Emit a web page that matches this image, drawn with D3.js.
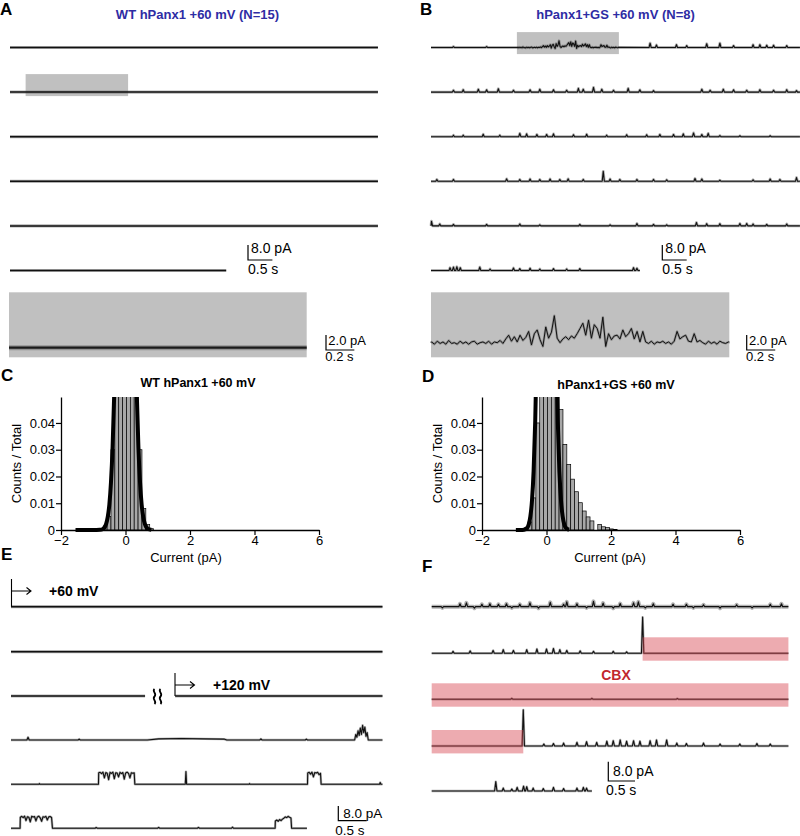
<!DOCTYPE html>
<html><head><meta charset="utf-8">
<script src="https://cdn.jsdelivr.net/npm/d3@7"></script>
<style>
body{margin:0;background:#fff;}
svg{display:block;font-family:"Liberation Sans",Arial,sans-serif;}
</style></head><body>
<svg id="fig" width="800" height="836"></svg>
<script>
// ================= DATA =================
const titleA = "WT hPanx1 +60 mV (N=15)";
const titleB = "hPanx1+GS +60 mV (N=8)";
const titleC = "WT hPanx1 +60 mV";
const titleD = "hPanx1+GS +60 mV";
const histXTicks = [-2, 0, 2, 4, 6];
const histYTicks = [0, 0.01, 0.02, 0.03, 0.04];
const histYTickLabels = ["0", "0.01", "0.02", "0.03", "0.04"];
const histXLabel = "Current (pA)";
const histYLabel = "Counts / Total";

// row durations (s)
const aRowDur = [7.54, 7.54, 7.54, 7.54, 7.54, 4.43];
const bRowDur = [7.56, 7.56, 7.56, 7.56, 7.56, 4.28];
// highlighted windows (s)
const aBox = [0.32, 2.42];
const bBox = [1.76, 3.85];

// panel B spikes per row: [time s, amplitude pA]
const bSpikes1 = [[0.46,0.5],[1.14,0.5],[4.49,2.3],[4.62,1.3],[5.03,1.5],[5.24,1.0],[5.65,2.0],[5.92,2.3],[6.2,1.0],[6.6,1.5],[6.74,1.5],[6.88,1.2],[7.02,1.2],[7.29,1.0]];
const bSpikes2 = [[0.46,1.0],[0.66,1.3],[0.97,1.5],[1.14,1.2],[1.38,1.8],[1.69,1.0],[2.03,1.2],[2.23,1.5],[2.51,1.2],[2.78,1.0],[3.02,2.0],[3.12,1.5],[3.33,2.5],[3.5,1.5],[3.74,1.0],[4.04,2.0],[4.28,1.2],[4.56,0.8],[5.55,1.5],[5.72,1.0],[5.99,1.5],[6.2,1.2],[6.47,1.0],[6.74,1.3],[7.02,1.0],[7.29,1.3],[7.49,0.8]];
const bSpikes3 = [[0.46,0.8],[0.66,0.8],[1.07,1.3],[1.41,0.8],[1.82,1.8],[1.96,1.5],[2.17,1.2],[2.37,1.2],[2.51,1.5],[2.92,1.0],[3.19,1.3],[3.6,0.8],[4.01,1.0],[4.42,1.0],[4.69,1.2],[4.97,1.2],[5.17,1.5],[5.38,2.0],[5.55,1.2],[5.68,1.8],[5.92,0.6],[6.33,0.5],[6.95,0.5]];
const bSpikes4 = [[0.12,1.0],[0.46,1.0],[1.55,1.3],[1.82,1.0],[2.03,1.2],[2.23,1.0],[2.44,1.2],[2.64,1.0],[2.81,1.3],[3.12,1.0],[3.53,5.3],[3.67,1.2],[3.87,1.0],[4.22,1.0],[4.56,1.0],[4.83,0.8],[5.41,1.5],[5.55,1.2],[5.92,0.6],[6.6,0.8],[6.95,1.2],[7.15,1.0],[7.49,2.0]];
const bSpikes5 = [[0.01,2.5],[0.18,1.0],[0.46,0.8],[1.14,0.8],[1.82,1.0],[2.23,0.6],[3.05,0.8],[3.67,0.6],[4.22,1.3],[4.56,0.8],[4.83,0.6],[5.44,1.8],[5.65,1.2],[5.92,1.2],[6.33,1.3],[6.47,1.3],[6.6,1.0],[6.88,0.8],[7.29,1.0]];
const bSpikes6 = [[0.39,1.5],[0.46,1.8],[0.53,2.0],[0.6,1.5],[1.0,1.8],[1.21,0.8],[1.69,1.3],[1.82,1.0],[2.03,1.2],[2.23,0.8],[2.51,1.0],[2.78,0.8],[3.05,1.0],[4.15,1.5],[4.22,1.2]];

// panel B highlighted window, sampled every 0.02 s (pA)
const bWindowDt = 0.02;
const bWindow = [0.1,-0.2,0.2,-0.1,0.1,-0.2,0.3,-0.1,0,-0.2,0.2,-0.1,0.1,-0.2,0.1,0.2,-0.2,0,0.1,-0.1,0.2,-0.2,0.1,0,
  0.3,-0.1,0.5,1.0,0.2,0.8,0.1,1.0,0.3,0.7,1.5,-0.3,1.2,1.7,0.4,-0.5,2.1,0.6,1.4,3.6,0.6,0.0,0.5,0.8,0.4,0.9,0.6,1.2,1.9,2.6,1.0,3.0,0.6,2.4,1.9,0.6,3.4,-0.5,1.2,0.4,0.9,1.0,0.5,1.7,0.8,1.2,1.9,0.5,1.5,0.1,1.5,0.1,
  -0.1,0.2,-0.2,0.1,0,0.2,-0.1,0.1,-0.2,0.2,1.5,0.5,0.8,1.0,0.2,0.1,1.2,0.1,0.3,0,-0.2,0.2,-0.1,0.1,-0.2,0.2,0,-0.1,0.1];

// histogram bins (left edge pA, fraction), bin width 0.12 pA
const binWidth = 0.12;
const cBinEdges = [-0.93,-0.81,-0.69,-0.57,-0.45,-0.33,-0.21,-0.09,0.03,0.15,0.27,0.39,0.51,0.63,0.75];
const cBinCounts = [0.0002,0.0005,0.0015,0.005,0.03,0.07,0.1,0.11,0.1,0.08,0.06,0.03,0.008,0.002,0.0005];
const dBinEdges = [-0.81,-0.69,-0.57,-0.45,-0.33,-0.21,-0.09,0.03,0.15,0.27,0.39,0.51,0.63,0.75,0.87,0.99,1.11,1.23,1.35,1.47,1.59,1.71,1.83,1.95,2.07];
const dBinCounts = [0.0003,0.0008,0.003,0.012,0.04,0.07,0.09,0.09,0.08,0.065,0.045,0.032,0.0245,0.019,0.0143,0.0102,0.0071,0.0049,0.0034,0,0.0021,0.0012,0.0009,0.0004,0.0002];
// Gaussian fits (pA, fraction)
const cFitX = [-1.55,-1.0,-0.8,-0.7,-0.65,-0.6,-0.55,-0.5,-0.45,-0.4,-0.35,-0.3,-0.2,-0.1,0,0.1,0.2,0.3,0.35,0.4,0.45,0.5,0.55,0.6,0.65,0.7,0.8];
const cFitY = [0,0,0.0001,0.0004,0.001,0.0023,0.0049,0.0096,0.0179,0.0311,0.0507,0.0774,0.148,0.22,0.25,0.22,0.148,0.0774,0.0507,0.0311,0.0179,0.0096,0.0049,0.0023,0.001,0.0004,0.0001];
const dFitX = [-0.95,-0.8,-0.7,-0.6,-0.55,-0.5,-0.45,-0.4,-0.35,-0.3,-0.25,-0.2,-0.1,0,0.1,0.2,0.25,0.3,0.35,0.4,0.45,0.5,0.55,0.6,0.7];
const dFitY = [0,0,0.0001,0.0008,0.0021,0.0051,0.011,0.022,0.0406,0.069,0.108,0.156,0.255,0.3,0.255,0.156,0.108,0.069,0.0406,0.022,0.011,0.0051,0.0021,0.0008,0.0001];

// panel E
const eRowDur = [6.54, 6.54, 6.54, 6.54, 6.54, 5.21];
const eSplit = [2.36, 2.89];           // row 3 gap (s)
const eSpikes4 = [[0.3,1.5],[1.2,0.5],[4.4,0.6],[5.2,0.5]];
const eRaw4 = [[2.4,0],[2.6,0.6],[3.0,0.8],[3.4,0.6],[3.75,0.5],[3.8,0],
  [6.05,0],[6.07,3],[6.09,1.5],[6.11,5],[6.13,2.5],[6.15,6.5],[6.17,3],[6.19,8],[6.21,4],[6.23,7],[6.25,2],[6.27,4],[6.29,0]];
const eSpikes5 = [[3.08,6.9],[6.5,1.0],[0.5,0.4],[4.2,0.4]];
const eOpen5a = {t0:1.54, dt:0.025, vals:[6.3,6.5,5.8,6.6,3.5,6.4,6.0,2.5,6.5,5.9,6.6,3.0,6.3,6.1,4.0,6.5,5.8,6.4,2.8,6.2,6.6,5.9,3.5,6.3,6.0,6.2], t1:2.18};
const eOpen5b = {t0:5.22, dt:0.025, vals:[6.2,6.5,5.5,6.6,4.0,6.4,6.1,6.5,5.2,6.0], t1:5.46};
const eSpikes6 = [[1.5,0.4],[2.6,0.5],[3.3,0.5],[3.9,0.6]];
const eOpen6a = {t0:0.16, dt:0.025, vals:[6.0,6.5,5.8,6.6,4.2,6.3,6.0,3.5,6.5,6.1,6.4,4.0,6.2,6.6,5.7,3.8,6.3,6.0,6.5,4.5,6.2,6.4,5.9], t1:0.73};
const eOpen6b = {t0:4.65, dt:0.025, vals:[4.0,4.5,3.8,4.8,4.2,5.0,5.5,6.2,5.8,6.5,6.0,5.6], t1:4.94};

// panel F
const fRowDur = [6.68, 6.68, 6.68, 6.68, 3.0];
const fSpikes1 = [[0.2,-0.5],[0.53,1.2],[0.65,1.6],[0.8,-0.6],[0.94,1.0],[1.09,1.2],[1.25,1.0],[1.4,1.2],[1.5,-0.5],[1.65,1.0],[1.84,1.6],[2.0,-0.6],[2.22,1.8],[2.47,1.0],[2.53,2.0],[2.72,1.2],[2.9,-0.5],[3.03,2.2],[3.21,1.5],[3.4,-0.6],[3.53,1.3],[3.78,1.6],[3.87,2.0],[4.0,-0.5],[4.15,1.2],[4.52,1.0],[4.77,1.0],[4.9,-0.5],[5.09,0.8],[5.4,-0.6],[5.71,0.8],[6.0,-0.5],[6.34,1.0],[6.55,1.2]];
const fSpikes2 = [[0.4,0.8],[0.72,1.0],[1.15,1.2],[1.34,1.5],[1.53,1.2],[1.78,1.5],[1.97,1.8],[2.15,1.8],[2.28,2.0],[2.4,1.5],[2.53,1.2],[2.78,1.0],[3.03,0.8],[3.4,0.8],[3.65,0.6],[3.95,15]];
const fSpikes3 = [[1.5,0.4],[3.0,0.4],[4.6,0.3]];
const fSpikes4 = [[1.715,15],[2.1,0.8],[2.28,1.0],[2.47,1.2],[2.72,1.5],[2.9,1.8],[3.09,1.5],[3.28,2.0],[3.4,2.2],[3.53,2.5],[3.65,2.0],[3.78,2.2],[3.9,2.0],[4.09,2.2],[4.21,2.5],[4.4,2.5],[4.59,1.2],[4.77,1.0],[5.09,1.2],[5.4,0.8],[5.77,0.8],[6.09,1.0],[6.34,0.8]];
const fSpikes5 = [[1.2,3.9],[1.34,1.2],[1.5,0.8],[1.6,1.5],[1.72,2.0],[1.78,1.8],[1.9,1.2],[2.09,1.0],[2.28,1.5],[2.47,1.0],[2.72,1.2],[2.84,1.5],[2.9,1.2]];
// CBX application windows: [row index, start s, end s]
const cbxWindows = [[1, 3.95, 6.68], [2, 0, 6.68], [3, 0, 1.715]];

// scale bar values
const mainBarPA = 8.0, mainBarS = 0.5, insetBarPA = 2.0, insetBarS = 0.2;

// ================= LAYOUT =================
const svg = d3.select("#fig");
const BLUE = "#2e2ca4", RED = "#c1272d";
const rowsAB = [47.5, 92.1, 136.7, 181.3, 225.9, 270.5];
const rowsE = [606.7, 651.7, 696, 740, 784.3, 828.3];
const rowsF = [606.7, 653.3, 699.3, 746, 791];

function buildTrace(spec) {
  const w = spec.w ?? 0.03;
  let pts = [];
  (spec.spikes || []).forEach(([t, a]) => pts.push([t - w, 0], [t, a], [t + w, 0]));
  (spec.raw || []).forEach(p => pts.push(p));
  (spec.samples || []).forEach(s => {
    pts.push([s.t0, 0]);
    s.vals.forEach((v, i) => pts.push([s.t0 + 0.004 + i * s.dt, v]));
    if (s.t1 !== undefined) pts.push([s.t1, 0]);
  });
  pts.sort((a, b) => a[0] - b[0]);
  const s0 = spec.start ?? 0, s1 = spec.end;
  pts = pts.filter(p => p[0] > s0 && p[0] < s1);
  return [[s0, 0], ...pts, [s1, 0]];
}

function drawTrace(g, spec, xs, ys, st) {
  const pts = buildTrace(spec);
  const line = d3.line().x(d => xs(d[0])).y(d => ys(d[1]));
  if (st.halo) g.append("path").attr("d", line(pts)).attr("fill", "none")
    .attr("stroke", "#666").attr("stroke-opacity", 0.5).attr("stroke-width", st.halo)
    .attr("stroke-linejoin", "round");
  g.append("path").attr("d", line(pts)).attr("fill", "none")
    .attr("stroke", st.color || "#000").attr("stroke-width", st.w || 1).attr("stroke-linejoin", "round");
}

function text(x, y, s, o = {}) {
  return svg.append("text").attr("x", x).attr("y", y).text(s)
    .attr("font-size", o.size || 13).attr("font-weight", o.bold ? "bold" : "normal")
    .attr("fill", o.color || "#000").attr("text-anchor", o.anchor || "start")
    .attr("dominant-baseline", o.db || "auto");
}

function scaleBar(x, y, xs, ys, tVal, aVal, labA, labT, o) {
  const len = xs(tVal) - xs(0), h = ys(0) - ys(aVal);
  svg.append("path").attr("d", `M${x},${y - h}V${y}H${x + len}`).attr("fill", "none")
    .attr("stroke", "#000").attr("stroke-width", 1.2);
  text(x + o.ax, o.ay, labA, {size: o.size, db: "central"});
  text(x + o.tx, o.ty, labT, {size: o.size, db: "central"});
}

// panel letters
[["A",0,15],["B",420,15],["C",1,381],["D",422,382],["E",1,560],["F",422,572]].forEach(([l,x,y]) =>
  text(x, y, l, {size: 17, bold: true}));

// titles
text(197.5, 19, titleA, {size: 13, bold: true, color: BLUE, anchor: "middle"});
text(615.5, 19, titleB, {size: 13, bold: true, color: BLUE, anchor: "middle"});

// ---------- panels A and B ----------
const pxS = 48.8, pxPA = 1.875;
function mainScales(x0, y0, dur) {
  return [d3.scaleLinear().domain([0, dur]).range([x0, x0 + dur * pxS]),
          d3.scaleLinear().domain([0, 1]).range([y0, y0 - pxPA])];
}
// highlight boxes (behind traces)
{
  const [xs] = mainScales(10, rowsAB[1], aRowDur[1]);
  svg.append("rect").attr("x", xs(aBox[0])).attr("y", rowsAB[1] - 18).attr("width", xs(aBox[1]) - xs(aBox[0]))
    .attr("height", 22).attr("fill", "#c0c0c0");
  const [xb] = mainScales(431, rowsAB[0], bRowDur[0]);
  svg.append("rect").attr("x", xb(bBox[0])).attr("y", rowsAB[0] - 15.4).attr("width", xb(bBox[1]) - xb(bBox[0]))
    .attr("height", 22).attr("fill", "#c0c0c0");
}
const gA = svg.append("g"), gB = svg.append("g");
aRowDur.forEach((d, i) => {
  const [xs, ys] = mainScales(10, rowsAB[i], d);
  drawTrace(gA, {end: d}, xs, ys, {halo: 3.2, w: 1.5, color: "#111"});
});
const bSpikeRows = [bSpikes1, bSpikes2, bSpikes3, bSpikes4, bSpikes5, bSpikes6];
const bWindowSamples = {t0: bBox[0], dt: bWindowDt, vals: bWindow};
bRowDur.forEach((d, i) => {
  const [xs, ys] = mainScales(431, rowsAB[i], d);
  const spec = {end: d, spikes: bSpikeRows[i], w: 0.022};
  if (i === 0) spec.samples = [bWindowSamples];
  drawTrace(gB, spec, xs, ys, {halo: 2.8, w: 1.1, color: "#111"});
});
{
  const [xs, ys] = mainScales(0, 260, 1);
  scaleBar(248, 260, xs, ys, mainBarS, mainBarPA, "8.0 pA", "0.5 s", {ax: 3, ay: 248.3, tx: 0, ty: 268.5, size: 14});
  scaleBar(662.3, 260, xs, ys, mainBarS, mainBarPA, "8.0 pA", "0.5 s", {ax: 3, ay: 248.3, tx: 0, ty: 268.5, size: 14});
}

// insets
function insetScales(x0, x1, y0, win) {
  return [d3.scaleLinear().domain(win).range([x0, x1]),
          d3.scaleLinear().domain([0, 1]).range([y0, y0 - 7.5])];
}
svg.append("rect").attr("x", 9).attr("y", 292.3).attr("width", 297.7).attr("height", 65).attr("fill", "#c0c0c0");
svg.append("rect").attr("x", 431).attr("y", 292.3).attr("width", 298.3).attr("height", 65).attr("fill", "#c0c0c0");
{
  const [xs, ys] = insetScales(9, 306.7, 347.7, aBox);
  drawTrace(svg, {start: aBox[0], end: aBox[1]}, xs, ys, {halo: 5, w: 2.2, color: "#1a1a1a"});
  scaleBar(326, 350, xs, ys, insetBarS, insetBarPA, "2.0 pA", "0.2 s", {ax: 2.3, ay: 340.5, tx: -0.7, ty: 356, size: 13});
  const [xb, yb] = insetScales(431, 729.3, 342.7, bBox);
  drawTrace(svg, {start: bBox[0], end: bBox[1], samples: [bWindowSamples]}, xb, yb, {halo: 2.4, w: 1.0, color: "#111"});
  scaleBar(746.7, 350, xb, yb, insetBarS, insetBarPA, "2.0 pA", "0.2 s", {ax: 2.3, ay: 340.5, tx: -0.7, ty: 356, size: 13});
}

// ---------- histograms C, D ----------
function histogram(x0, x1, title, tx, ty, edges, counts, fitX, fitY, clipId, labX, labYx) {
  const xs = d3.scaleLinear().domain([-2, 6]).range([x0, x1]);
  const ys = d3.scaleLinear().domain([0, 0.0497]).range([530, 397]);
  text(tx, ty, title, {size: 12.5, bold: true, anchor: "middle"});
  svg.append("clipPath").attr("id", clipId).append("rect")
    .attr("x", x0 - 5).attr("y", 397).attr("width", x1 - x0 + 10).attr("height", 140);
  const g = svg.append("g").attr("clip-path", `url(#${clipId})`);
  g.selectAll("rect.bar").data(edges).join("rect").attr("class", "bar")
    .attr("x", d => xs(d)).attr("width", xs(binWidth) - xs(0))
    .attr("y", (d, i) => ys(counts[i])).attr("height", (d, i) => ys(0) - ys(counts[i]))
    .attr("fill", "#a8a8a8").attr("stroke", "#000").attr("stroke-width", 0.7);
  const fit = fitX.map((x, i) => [x, fitY[i]]);
  g.append("path").attr("d", d3.line().x(d => xs(d[0])).y(d => ys(d[1])).curve(d3.curveMonotoneX)(fit))
    .attr("fill", "none").attr("stroke", "#000").attr("stroke-width", 4).attr("stroke-linejoin", "round");
  const ax = svg.append("g").attr("transform", "translate(0,530)")
    .call(d3.axisBottom(xs).tickValues(histXTicks).tickSize(5).tickSizeOuter(0).tickFormat(d3.format("d")));
  const ay = svg.append("g").attr("transform", `translate(${x0},0)`)
    .call(d3.axisLeft(ys).tickValues(histYTicks).tickSize(5).tickSizeOuter(0).tickFormat((d, i) => histYTickLabels[i]));
  [ax, ay].forEach(a => {
    a.selectAll("path.domain").attr("stroke", "#000").attr("stroke-width", 1.3);
    a.selectAll(".tick line").attr("stroke", "#000").attr("stroke-width", 1.2);
    a.selectAll("text").attr("font-size", 13).attr("font-family", "Liberation Sans, Arial, sans-serif").attr("fill", "#000");
  });
  ax.selectAll("text").attr("dy", "0.72em").attr("y", 6);
  ay.selectAll("text").attr("x", -6);
  text(labX, 561.5, histXLabel, {size: 13, anchor: "middle"});
  svg.append("text").attr("transform", `translate(${labYx},463.5) rotate(-90)`).attr("text-anchor", "middle")
    .attr("dominant-baseline", "central").attr("font-size", 13).text(histYLabel);
}
histogram(61, 319, titleC, 198, 386.7, cBinEdges, cBinCounts, cFitX, cFitY, "clipC", 186, 16);
histogram(482, 740, titleD, 616, 389, dBinEdges, dBinCounts, dFitX, dFitY, "clipD", 610, 437.5);

// ---------- panel E ----------
const pxSE = 56.8, pxPAE = 1.84;
function eScales(y0, t0, t1) {
  return [d3.scaleLinear().domain([t0, t1]).range([11 + t0 * pxSE, 11 + t1 * pxSE]),
          d3.scaleLinear().domain([0, 1]).range([y0, y0 - pxPAE])];
}
const gE = svg.append("g");
const eSpecs = [
  [{end: eRowDur[0]}],
  [{end: eRowDur[1]}],
  [{end: eSplit[0]}, {start: eSplit[1], end: eRowDur[2]}],
  [{end: eRowDur[3], spikes: eSpikes4, raw: eRaw4, w: 0.02}],
  [{end: eRowDur[4], spikes: eSpikes5, samples: [eOpen5a, eOpen5b], w: 0.012}],
  [{end: eRowDur[5], spikes: eSpikes6, samples: [eOpen6a, eOpen6b], w: 0.02}]
];
eSpecs.forEach((specs, i) => specs.forEach(sp => {
  const [xs, ys] = eScales(rowsE[i], sp.start ?? 0, sp.end);
  drawTrace(gE, sp, xs, ys, i < 3 ? {halo: 3.2, w: 1.5, color: "#111"} : {halo: 2.4, w: 1.1, color: "#111"});
}));
// voltage step markers
function stepMarker(x, yTop, yBot, yArrow, label, lx) {
  svg.append("path").attr("d", `M${x},${yTop}V${yBot}M${x},${yArrow}H${x + 19.5}M${x + 15},${yArrow - 3.5}L${x + 19.5},${yArrow}L${x + 15},${yArrow + 3.5}`)
    .attr("fill", "none").attr("stroke", "#000").attr("stroke-width", 1.1);
  text(lx, yArrow, label, {size: 14, bold: true, db: "central"});
}
stepMarker(11.5, 579, 606.7, 591, "+60 mV", 49);
stepMarker(175, 673, 696, 685, "+120 mV", 213);
// break symbol
svg.append("path").attr("d", "M154.5,689c-3,2.5 3,4.5 0,7.5s3,4.5 0,7.5M160.5,689c-3,2.5 3,4.5 0,7.5s3,4.5 0,7.5")
  .attr("fill", "none").attr("stroke", "#000").attr("stroke-width", 1.8);
{
  const [xs, ys] = eScales(820.7, 0, 1);
  scaleBar(338.3, 820.7, xs, ys, mainBarS, mainBarPA, "8.0 pA", "0.5 s", {ax: 5, ay: 813.5, tx: -3, ty: 830, size: 13.5});
}

// ---------- panel F ----------
const pxSF = 53.4, pxPAF = 2.41;
function fScales(y0, dur) {
  return [d3.scaleLinear().domain([0, dur]).range([431.7, 431.7 + dur * pxSF]),
          d3.scaleLinear().domain([0, 1]).range([y0, y0 - pxPAF])];
}
const gF = svg.append("g");
const fSpikeRows = [fSpikes1, fSpikes2, fSpikes3, fSpikes4, fSpikes5];
fRowDur.forEach((d, i) => {
  const [xs, ys] = fScales(rowsF[i], d);
  drawTrace(gF, {end: d, spikes: fSpikeRows[i], w: 0.022}, xs, ys,
    i === 0 ? {halo: 4, w: 1.2, color: "#111"} : {halo: 2.4, w: 1.1, color: "#111"});
});
cbxWindows.forEach(([r, t0, t1]) => {
  const [xs] = fScales(rowsF[r], fRowDur[r]);
  svg.append("rect").attr("x", xs(t0)).attr("y", rowsF[r] - 16).attr("width", xs(t1) - xs(t0)).attr("height", 23.4)
    .attr("fill", "#d64550").attr("fill-opacity", 0.45);
});
text(616, 675, "CBX", {size: 14, bold: true, color: RED, anchor: "middle", db: "central"});
{
  const [xs, ys] = fScales(781, 1);
  scaleBar(608.3, 781, xs, ys, mainBarS, mainBarPA, "8.0 pA", "0.5 s", {ax: 4.7, ay: 770.5, tx: -2.3, ty: 790.3, size: 14});
}
</script></body></html>
